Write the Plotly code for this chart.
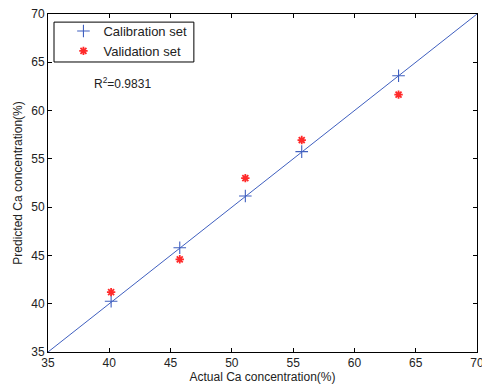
import plotly.graph_objects as go

actual = [40.15, 45.75, 51.1, 55.7, 63.6]
calib_pred = [40.25, 45.8, 51.15, 55.75, 63.6]
valid_pred = [41.2, 44.6, 53.0, 56.95, 61.65]
fit_x = [35, 70]
fit_y = [35, 70]

blue = "#3f5fbf"
red = "#ff2a2a"

fig = go.Figure()
fig.add_trace(go.Scatter(x=fit_x, y=fit_y, mode="lines",
                         line=dict(color=blue, width=1), showlegend=False, hoverinfo="skip"))
fig.add_trace(go.Scatter(x=actual, y=calib_pred, mode="markers", name="Calibration set",
                         marker=dict(symbol="cross-thin-open", size=9, color=blue,
                                     line=dict(color=blue, width=1.1))))
fig.add_trace(go.Scatter(x=actual, y=valid_pred, mode="markers", name="Validation set",
                         marker=dict(symbol="asterisk-open", size=7, color=red,
                                     line=dict(color=red, width=1.8))))

axis_common = dict(showline=True, linecolor="black", linewidth=1, mirror="ticks",
                   ticks="inside", ticklen=4, tickcolor="black", showgrid=False,
                   zeroline=False, range=[35, 70], dtick=5, tick0=35, automargin=False,
                   ticklabeloverflow="allow",
                   tickfont=dict(family="Liberation Sans, Arial", size=12, color="#222"))

fig.update_layout(
    width=482, height=389,
    margin=dict(l=48, r=5, t=14, b=37),
    paper_bgcolor="white", plot_bgcolor="white",
    font=dict(family="Liberation Sans, Arial", size=12, color="#222"),
    xaxis=dict(**axis_common, title=dict(text="Actual Ca concentration(%)", standoff=2,
                                         font=dict(size=12))),
    yaxis=dict(**axis_common, title=dict(text="Predicted Ca concentration(%)", standoff=6,
                                         font=dict(size=12))),
    legend=dict(x=0.036, y=0.994, xanchor="left", yanchor="top",
                borderwidth=0, bgcolor="rgba(0,0,0,0)",
                font=dict(size=13), itemwidth=30, tracegroupgap=0),
    shapes=[dict(type="rect", xref="paper", yref="paper", x0=0.014, x1=0.340,
                 y0=0.858, y1=0.976, line=dict(color="black", width=1),
                 fillcolor="white", layer="above")],
    annotations=[dict(x=0.103, y=0.796, xref="paper", yref="paper", xanchor="left",
                      yanchor="middle", showarrow=False, text="R<sup>2</sup>=0.9831",
                      font=dict(size=12, color="#222"))],
)

fig.write_html("out.html", config={"displayModeBar": False},
               post_script="document.body.style.margin='0';document.body.style.overflow='hidden';")
